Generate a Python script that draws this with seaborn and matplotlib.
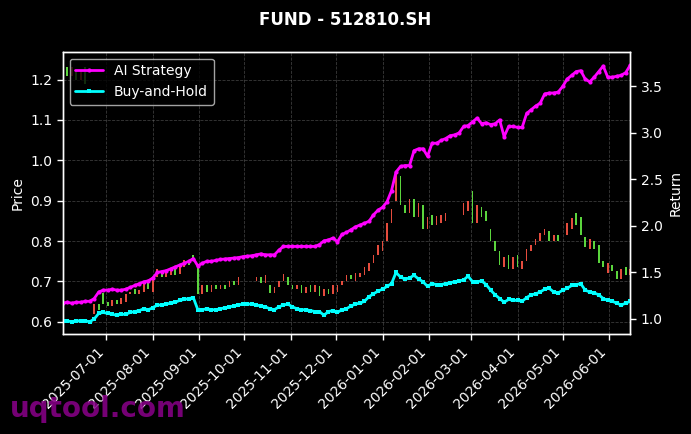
import numpy as np
import pandas as pd
import matplotlib
matplotlib.use("Agg")
import matplotlib.pyplot as plt
import matplotlib.dates as mdates
import seaborn as sns

# Sampled every 3 days from early June 2025 to mid June 2026
DATES = pd.date_range("2025-06-02", periods=127, freq="3D")

AI_RETURN = [
    1.17, 1.18, 1.17, 1.18, 1.18, 1.19, 1.19, 1.22, 1.29, 1.31,
    1.31, 1.32, 1.31, 1.31, 1.32, 1.34, 1.36, 1.38, 1.40, 1.41,
    1.44, 1.50, 1.51, 1.52, 1.54, 1.56, 1.58, 1.60, 1.62, 1.65,
    1.57, 1.60, 1.62, 1.62, 1.63, 1.64, 1.645, 1.65, 1.655, 1.66,
    1.67, 1.675, 1.68, 1.69, 1.70, 1.69, 1.69, 1.69, 1.74, 1.78,
    1.78, 1.78, 1.78, 1.78, 1.78, 1.78, 1.78, 1.80, 1.84, 1.85,
    1.87, 1.83, 1.91, 1.93, 1.96, 1.99, 2.01, 2.03, 2.05, 2.12,
    2.17, 2.20, 2.26, 2.38, 2.58, 2.64, 2.65, 2.65, 2.81, 2.83,
    2.83, 2.75, 2.89, 2.89, 2.92, 2.94, 2.97, 2.98, 3.00, 3.07,
    3.08, 3.12, 3.16, 3.10, 3.11, 3.09, 3.10, 3.14, 2.96, 3.07,
    3.07, 3.06, 3.06, 3.21, 3.25, 3.29, 3.32, 3.42, 3.43, 3.43,
    3.44, 3.50, 3.58, 3.62, 3.66, 3.67, 3.58, 3.55, 3.60, 3.66,
    3.72, 3.60, 3.60, 3.61, 3.62, 3.65, 3.73,
]

BH_RETURN = [
    0.98, 0.98, 0.97, 0.98, 0.98, 0.98, 0.97, 1.00, 1.06, 1.07,
    1.06, 1.05, 1.04, 1.05, 1.05, 1.07, 1.08, 1.09, 1.11, 1.10,
    1.12, 1.15, 1.15, 1.16, 1.17, 1.18, 1.20, 1.21, 1.22, 1.23,
    1.10, 1.10, 1.11, 1.10, 1.10, 1.11, 1.12, 1.13, 1.14, 1.15,
    1.16, 1.16, 1.16, 1.15, 1.14, 1.13, 1.11, 1.10, 1.13, 1.15,
    1.16, 1.13, 1.11, 1.10, 1.10, 1.09, 1.08, 1.08, 1.04, 1.08,
    1.09, 1.07, 1.10, 1.11, 1.14, 1.16, 1.17, 1.19, 1.24, 1.27,
    1.30, 1.32, 1.35, 1.38, 1.50, 1.45, 1.43, 1.44, 1.47, 1.43,
    1.40, 1.35, 1.38, 1.37, 1.37, 1.38, 1.39, 1.40, 1.41, 1.42,
    1.46, 1.40, 1.40, 1.41, 1.37, 1.31, 1.26, 1.22, 1.18, 1.21,
    1.20, 1.20, 1.19, 1.23, 1.26, 1.27, 1.29, 1.32, 1.33, 1.29,
    1.28, 1.31, 1.33, 1.36, 1.37, 1.38, 1.31, 1.29, 1.28, 1.26,
    1.22, 1.20, 1.19, 1.17, 1.15, 1.17, 1.19,
]

nan = np.nan
OPEN = [
    1.20, 1.23, 1.21, 1.22, 1.20, 1.23, nan, 0.62, 0.645, 0.672,
    0.65, 0.64, 0.655, 0.645, 0.65, 0.668, 0.68, 0.668, 0.675, 0.698,
    0.675, 0.71, 0.72, 0.71, 0.715, 0.73, 0.718, 0.735, 0.752, 0.765,
    0.74, 0.67, 0.69, 0.675, 0.69, 0.68, 0.69, 0.685, 0.70, 0.69,
    nan, nan, nan, 0.70, 0.712, 0.695, 0.69, 0.672, 0.685, 0.70,
    0.712, 0.69, 0.68, 0.692, 0.672, 0.69, 0.675, 0.688, 0.665, 0.68,
    0.668, 0.675, 0.69, 0.70, 0.715, 0.70, 0.71, 0.715, 0.725, 0.745,
    0.765, 0.775, 0.80, 0.845, 0.90, 0.96, 0.89, 0.87, 0.905, 0.86,
    0.89, 0.83, 0.865, 0.84, 0.845, 0.85, nan, nan, nan, 0.865,
    0.875, 0.925, 0.845, 0.885, 0.875, 0.83, 0.80, 0.775, 0.735, 0.765,
    0.73, 0.765, 0.73, 0.75, 0.775, 0.79, 0.80, 0.815, 0.825, 0.80,
    0.815, nan, 0.815, 0.83, 0.87, 0.86, 0.81, 0.78, 0.80, 0.79,
    0.75, 0.72, 0.74, 0.725, 0.705, 0.735, 0.715,
]

CLOSE = [
    1.22, 1.21, 1.23, 1.20, 1.22, 1.19, nan, 0.645, 0.63, 0.645,
    0.64, 0.655, 0.645, 0.66, 0.668, 0.672, 0.668, 0.678, 0.695, 0.68,
    0.71, 0.73, 0.71, 0.72, 0.73, 0.715, 0.735, 0.752, 0.74, 0.75,
    0.67, 0.69, 0.675, 0.69, 0.68, 0.69, 0.682, 0.70, 0.69, 0.71,
    nan, nan, nan, 0.712, 0.695, 0.715, 0.672, 0.685, 0.70, 0.718,
    0.69, 0.68, 0.692, 0.672, 0.685, 0.675, 0.69, 0.665, 0.68, 0.668,
    0.69, 0.69, 0.70, 0.715, 0.705, 0.72, 0.72, 0.735, 0.745, 0.765,
    0.79, 0.80, 0.845, 0.88, 0.965, 0.89, 0.87, 0.905, 0.86, 0.895,
    0.83, 0.86, 0.84, 0.862, 0.865, 0.87, nan, nan, nan, 0.895,
    0.90, 0.845, 0.89, 0.86, 0.85, 0.80, 0.775, 0.74, 0.76, 0.73,
    0.76, 0.735, 0.75, 0.78, 0.79, 0.805, 0.82, 0.83, 0.80, 0.815,
    0.80, nan, 0.845, 0.857, 0.84, 0.815, 0.785, 0.805, 0.78, 0.745,
    0.735, 0.745, 0.725, 0.705, 0.73, 0.715, 0.73,
]

UP_COLOR = "#ff5544"
DOWN_COLOR = "#66ee44"

sns.set_theme(style="dark", rc={
    "figure.facecolor": "black",
    "axes.facecolor": "black",
    "axes.edgecolor": "white",
    "axes.labelcolor": "white",
    "text.color": "white",
    "xtick.color": "white",
    "ytick.color": "white",
    "xtick.bottom": True,
    "ytick.left": True,
    "ytick.right": True,
    "font.size": 10,
    "axes.labelsize": 10,
    "xtick.labelsize": 10,
    "ytick.labelsize": 10,
    "legend.fontsize": 10,
})

fig = plt.figure(figsize=(6.91, 4.34), dpi=100)
ax = fig.add_axes([0.0907, 0.2297, 0.8214, 0.6512])

# candles (bodies only)
o = np.array(OPEN)
c = np.array(CLOSE)
mask = ~np.isnan(o)
bottom = np.minimum(o, c)
height = np.maximum(np.abs(c - o), 0.006)
colors = np.where(c >= o, UP_COLOR, DOWN_COLOR)
ax.bar(DATES[mask], height[mask], bottom=bottom[mask], width=1.1,
       color=colors[mask], linewidth=0, alpha=0.9)

ax.set_ylim(0.569, 1.269)
ax.set_ylabel("Price")
ax.grid(True, linestyle="--", color="gray", alpha=0.45, linewidth=0.6)

ax2 = ax.twinx()
sns.lineplot(x=DATES, y=AI_RETURN, ax=ax2, color="#ff00ff", marker="o",
             markersize=3, markeredgewidth=0, linewidth=2, label="AI Strategy")
sns.lineplot(x=DATES, y=BH_RETURN, ax=ax2, color="#00ffff", marker="s",
             markersize=3, markeredgewidth=0, linewidth=2, label="Buy-and-Hold")
ax2.set_ylim(0.835, 3.874)
ax2.set_ylabel("Return")
ax2.grid(False)

for a in (ax, ax2):
    for sp in a.spines.values():
        sp.set_color("white")
        sp.set_linewidth(1)

ax.set_xlim(DATES[0], DATES[-1])
ax.xaxis.set_major_locator(mdates.MonthLocator())
ax.xaxis.set_major_formatter(mdates.DateFormatter("%Y-%m-%d"))
plt.setp(ax.get_xticklabels(), rotation=45, ha="right")
ax.tick_params(axis="both", length=4, width=1)
ax2.tick_params(axis="y", length=4, width=1)

leg = ax2.legend(loc="upper left", facecolor="black", edgecolor="#cccccc",
                 framealpha=0.8, labelcolor="white")

fig.suptitle("FUND - 512810.SH", color="white", fontsize=12,
             fontweight="bold", y=0.975)

fig.text(0.014, 0.04, "uqtool.com", fontsize=20, fontweight="bold",
         color="#8a008a", alpha=0.85)

fig.savefig("out.png", dpi=100, facecolor="black")
